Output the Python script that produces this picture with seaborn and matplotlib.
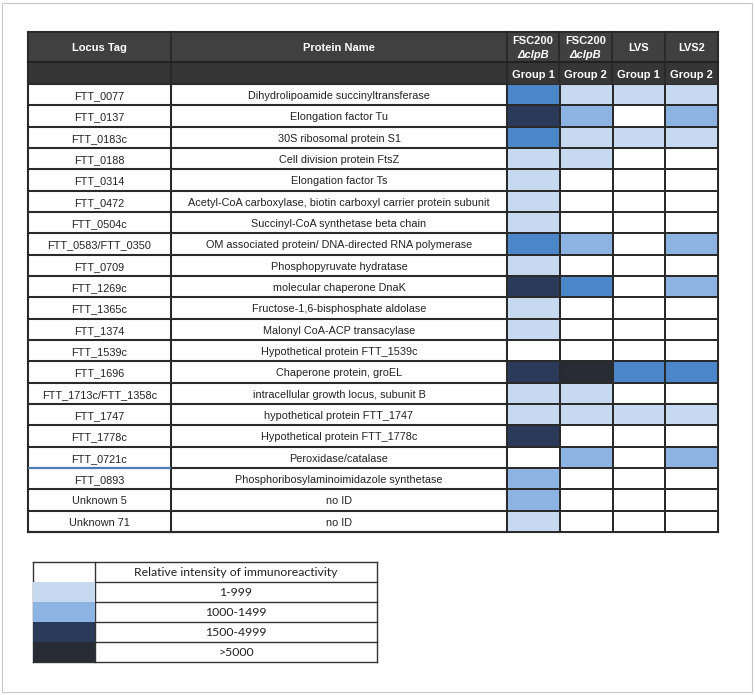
import numpy as np
import pandas as pd
import seaborn as sns
import matplotlib.pyplot as plt
from matplotlib.colors import ListedColormap
from matplotlib.patches import Rectangle

# Table content
locus_tags = [
    "FTT_0077", "FTT_0137", "FTT_0183c", "FTT_0188", "FTT_0314", "FTT_0472",
    "FTT_0504c", "FTT_0583/FTT_0350", "FTT_0709", "FTT_1269c", "FTT_1365c",
    "FTT_1374", "FTT_1539c", "FTT_1696", "FTT_1713c/FTT_1358c", "FTT_1747",
    "FTT_1778c", "FTT_0721c", "FTT_0893", "Unknown 5", "Unknown 71",
]
protein_names = [
    "Dihydrolipoamide succinyltransferase", "Elongation factor Tu",
    "30S ribosomal protein S1", "Cell division protein FtsZ",
    "Elongation factor Ts",
    "Acetyl-CoA carboxylase, biotin carboxyl carrier protein subunit",
    "Succinyl-CoA synthetase beta chain",
    "OM associated protein/ DNA-directed RNA polymerase",
    "Phosphopyruvate hydratase", "molecular chaperone DnaK",
    "Fructose-1,6-bisphosphate aldolase", "Malonyl CoA-ACP transacylase",
    "Hypothetical protein FTT_1539c", "Chaperone protein, groEL",
    "intracellular growth locus, subunit B", "hypothetical protein FTT_1747",
    "Hypothetical protein FTT_1778c", "Peroxidase/catalase",
    "Phosphoribosylaminoimidazole synthetase", "no ID", "no ID",
]
strains = ["FSC200", "FSC200", "LVS", "LVS2"]
groups = ["Group 1", "Group 2", "Group 1", "Group 2"]

# intensity class per cell (0 = none, 1 = light ... 5 = darkest)
fsc_g1 = [3, 4, 3, 1, 1, 1, 1, 3, 1, 4, 1, 1, 0, 4, 1, 1, 4, 0, 2, 2, 1]
fsc_g2 = [1, 2, 1, 1, 0, 0, 0, 2, 0, 3, 0, 0, 0, 5, 1, 1, 0, 2, 0, 0, 0]
lvs_g1 = [1, 0, 1, 0, 0, 0, 0, 0, 0, 0, 0, 0, 0, 3, 0, 1, 0, 0, 0, 0, 0]
lvs2_g2 = [1, 2, 1, 0, 0, 0, 0, 2, 0, 2, 0, 0, 0, 3, 0, 1, 0, 2, 0, 0, 0]

legend_title = "Relative intensity of immunoreactivity"
legend_labels = ["1-999", "1000-1499", "1500-4999", ">5000"]
legend_levels = [1, 2, 4, 5]

palette = ["#ffffff", "#c6d9f0", "#8db3e2", "#4a86c8", "#2b3a5a", "#272b33"]
cmap = ListedColormap(palette)

plt.rcParams["font.family"] = ["Liberation Sans", "DejaVu Sans"]

W, H = 755, 695
fig = plt.figure(figsize=(W / 100, H / 100), dpi=100)
bg = fig.add_axes([0, 0, 1, 1])
bg.set_xlim(0, W)
bg.set_ylim(H, 0)
bg.axis("off")

# thin frame around the whole figure
bg.add_patch(Rectangle((2, 3), 750, 689, fill=False, ec="#c8c8c8", lw=0.8))

col_x = [28, 171, 507, 559, 612, 665, 718]
y_top, y_h1, y_h2, y_bot = 32, 62, 84, 532
n = len(locus_tags)
row_h = (y_bot - y_h2) / n
line_c = "#2a2a2a"

# header backgrounds
bg.add_patch(Rectangle((col_x[0], y_top), col_x[-1] - col_x[0], y_h1 - y_top,
                       fc="#404040", ec="none"))
bg.add_patch(Rectangle((col_x[0], y_h1), col_x[-1] - col_x[0], y_h2 - y_h1,
                       fc="#363636", ec="none"))

hdr = dict(color="white", fontsize=8, fontweight="bold", ha="center",
           va="center_baseline")
bg.text((col_x[0] + col_x[1]) / 2, (y_top + y_h1) / 2, "Locus Tag", **hdr)
bg.text((col_x[1] + col_x[2]) / 2, (y_top + y_h1) / 2, "Protein Name", **hdr)
for j in range(4):
    cx = (col_x[j + 2] + col_x[j + 3]) / 2
    if strains[j].startswith("FSC"):
        bg.text(cx, y_top + 8, strains[j], **hdr)
        bg.text(cx, y_top + 21.5, "ΔclpB", style="italic", **hdr)
    else:
        bg.text(cx, (y_top + y_h1) / 2, strains[j], **hdr)
    bg.text(cx, (y_h1 + y_h2) / 2 + 0.5, groups[j], **hdr)

# text columns
for i in range(n):
    cy = y_h2 + (i + 0.5) * row_h
    bg.text((col_x[0] + col_x[1]) / 2, cy + 0.5, locus_tags[i], fontsize=7.8,
            ha="center", va="center_baseline", color="#222222")
    bg.text((col_x[1] + col_x[2]) / 2, cy + 0.5, protein_names[i], fontsize=7.8,
            ha="center", va="center_baseline", color="#222222")

# grid lines of the text part
for i in range(n + 1):
    y = y_h2 + i * row_h
    bg.plot([col_x[0], col_x[2]], [y, y], color=line_c, lw=1.5, zorder=3)
for x in col_x:
    bg.plot([x, x], [y_top, y_bot], color=line_c, lw=1.5, zorder=3)
bg.plot([col_x[0], col_x[-1]], [y_top, y_top], color=line_c, lw=1.5, zorder=3)
bg.plot([col_x[0], col_x[-1]], [y_h1, y_h1], color="#222222", lw=1.5, zorder=3)
bg.plot([col_x[0], col_x[-1]], [y_bot, y_bot], color=line_c, lw=1.5, zorder=3)
# stray blue rule under FTT_0721c
yb = y_h2 + 18 * row_h
bg.plot([col_x[0] + 1, col_x[1] - 1], [yb, yb], color="#4a7cb5", lw=1.5, zorder=4)

# intensity heatmap
grid = pd.DataFrame({"a": fsc_g1, "b": fsc_g2, "c": lvs_g1, "d": lvs2_g2})
hx = fig.add_axes([col_x[2] / W, 1 - y_bot / H,
                   (col_x[-1] - col_x[2]) / W, (y_bot - y_h2) / H])
sns.heatmap(grid, ax=hx, cmap=cmap, vmin=-0.5, vmax=5.5, cbar=False,
            linewidths=1.1, linecolor=line_c, xticklabels=False, yticklabels=False)
hx.axis("off")

# legend table
lx = [33, 95, 377]
ly0, ly1 = 562, 662
lrow = (ly1 - ly0) / 5
leg = pd.DataFrame({"c": legend_levels})
lax = fig.add_axes([lx[0] / W, 1 - ly1 / H, (lx[1] - lx[0]) / W, 4 * lrow / H])
sns.heatmap(leg, ax=lax, cmap=cmap, vmin=-0.5, vmax=5.5, cbar=False,
            linewidths=0, xticklabels=False, yticklabels=False)
lax.axis("off")

lfont = ["Lato", "DejaVu Sans"]
bg.text((lx[1] + lx[2]) / 2, ly0 + lrow / 2, legend_title, fontsize=8.8,
        ha="center", va="center_baseline", family=lfont, color="#222222")
for k, lab in enumerate(legend_labels):
    bg.text((lx[1] + lx[2]) / 2, ly0 + (k + 1.5) * lrow, lab, fontsize=8.8,
            ha="center", va="center_baseline", family=lfont, color="#222222")
for k in range(6):
    y = ly0 + k * lrow
    x0 = lx[0] if k in (0, 5) else lx[1]
    bg.plot([x0, lx[2]], [y, y], color="#333333", lw=1.0, zorder=3)
for x in lx:
    bg.plot([x, x], [ly0, ly1], color="#333333", lw=1.0, zorder=3)

fig.savefig("out.png", dpi=100)
